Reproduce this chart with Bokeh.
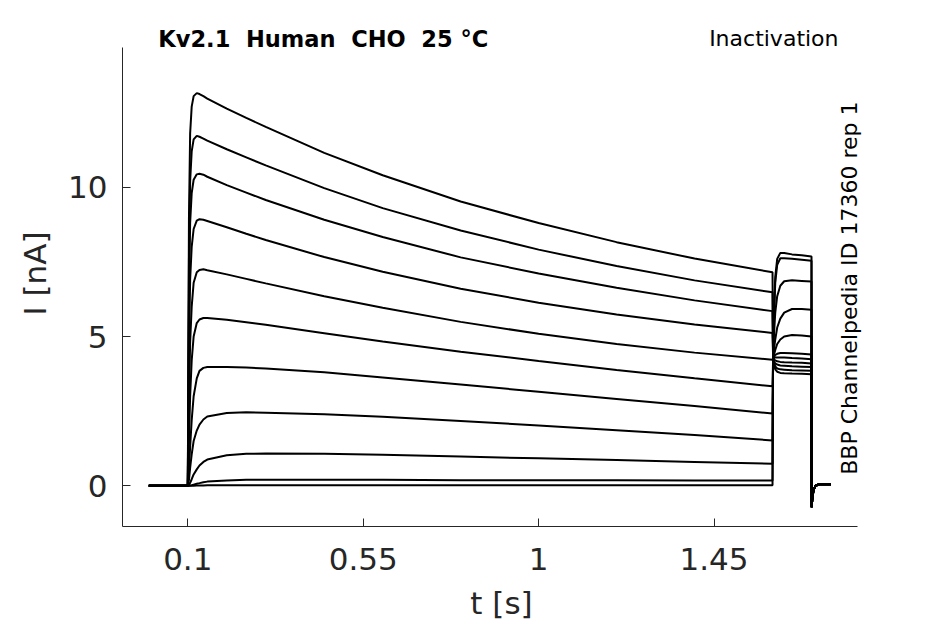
import math
from bokeh.plotting import figure
from bokeh.models import Range1d, FixedTicker, Label
from bokeh.embed import file_html
from bokeh.resources import INLINE

# ---------------- data ----------------
# conditioning (pre-) pulse time grid [s]
t_pre = [0.0, 0.1, 0.103, 0.106, 0.11, 0.115, 0.123, 0.13, 0.14, 0.15,
         0.2, 0.25, 0.3, 0.45, 0.6, 0.8, 1.0, 1.2, 1.4, 1.6]

# current during conditioning pulse [nA], one list per sweep (largest first)
i_pre_1 = [0, 0, 9.0, 11.8, 12.7, 13.05, 13.15, 13.12, 13.05, 12.97, 12.63, 12.32, 12.02, 11.15, 10.40, 9.52, 8.80, 8.16, 7.61, 7.15]
i_pre_2 = [0, 0, 7.6, 10.2, 11.2, 11.6, 11.72, 11.69, 11.63, 11.56, 11.27, 11.00, 10.73, 9.97, 9.30, 8.55, 7.91, 7.36, 6.88, 6.48]
i_pre_3 = [0, 0, 6.2, 8.8, 9.8, 10.25, 10.43, 10.45, 10.42, 10.35, 10.07, 9.82, 9.57, 8.91, 8.33, 7.65, 7.11, 6.63, 6.21, 5.85]
i_pre_4 = [0, 0, 4.5, 6.9, 8.0, 8.6, 8.88, 8.93, 8.91, 8.87, 8.66, 8.44, 8.23, 7.66, 7.17, 6.60, 6.13, 5.74, 5.40, 5.12]
i_pre_5 = [0, 0, 2.8, 4.8, 6.0, 6.8, 7.15, 7.23, 7.25, 7.22, 7.08, 6.93, 6.78, 6.35, 5.96, 5.49, 5.09, 4.75, 4.46, 4.22]
i_pre_6 = [0, 0, 1.5, 3.0, 4.2, 5.0, 5.45, 5.57, 5.62, 5.62, 5.56, 5.48, 5.39, 5.11, 4.83, 4.49, 4.18, 3.88, 3.60, 3.33]
i_pre_7 = [0, 0, 0.6, 1.3, 2.2, 3.0, 3.6, 3.85, 3.95, 3.98, 3.98, 3.96, 3.93, 3.80, 3.63, 3.39, 3.15, 2.91, 2.67, 2.42]
i_pre_8 = [0, 0, 0.2, 0.6, 1.05, 1.5, 1.85, 2.05, 2.22, 2.32, 2.44, 2.46, 2.45, 2.40, 2.31, 2.17, 2.02, 1.86, 1.70, 1.52]
i_pre_9 = [0, 0, 0.03, 0.1, 0.22, 0.38, 0.55, 0.68, 0.8, 0.88, 1.02, 1.07, 1.08, 1.07, 1.04, 0.98, 0.92, 0.86, 0.80, 0.74]
i_pre_10 = [0, 0, 0.0, 0.01, 0.02, 0.04, 0.07, 0.09, 0.12, 0.14, 0.18, 0.20, 0.20, 0.20, 0.20, 0.19, 0.19, 0.19, 0.18, 0.18]
i_pre_11 = [0, 0, 0, 0, 0, 0, 0.01, 0.01, 0.01, 0.02, 0.02, 0.02, 0.02, 0.02, 0.02, 0.02, 0.02, 0.02, 0.02, 0.02]

# test pulse time grid [s]
t_test = [1.6015, 1.603, 1.607, 1.612, 1.62, 1.63, 1.65, 1.675, 1.7]
i_test_1 = [4.28, 4.10, 3.90, 3.82, 3.78, 3.77, 3.76, 3.75, 3.74]
i_test_2 = [4.28, 4.15, 4.00, 3.93, 3.90, 3.89, 3.87, 3.86, 3.85]
i_test_3 = [4.28, 4.20, 4.10, 4.06, 4.03, 4.02, 4.00, 3.99, 3.98]
i_test_4 = [4.28, 4.25, 4.20, 4.17, 4.15, 4.14, 4.13, 4.12, 4.10]
i_test_5 = [4.28, 4.28, 4.30, 4.30, 4.30, 4.30, 4.28, 4.26, 4.24]
i_test_6 = [4.28, 4.30, 4.38, 4.42, 4.45, 4.45, 4.44, 4.42, 4.40]
i_test_7 = [4.28, 4.35, 4.55, 4.75, 4.90, 5.00, 5.05, 5.03, 5.00]
i_test_8 = [4.28, 4.50, 4.90, 5.30, 5.60, 5.80, 5.92, 5.92, 5.90]
i_test_9 = [4.28, 4.90, 5.80, 6.35, 6.70, 6.85, 6.88, 6.86, 6.84]
i_test_10 = [4.28, 5.40, 6.80, 7.40, 7.62, 7.62, 7.60, 7.57, 7.54]
i_test_11 = [4.28, 5.60, 7.00, 7.60, 7.80, 7.80, 7.75, 7.72, 7.68]

# tail after the test pulse (all sweeps overlap)
t_tail = [1.7005, 1.702, 1.705, 1.71, 1.72, 1.75]
i_tail = [-0.72, -0.45, -0.15, 0.0, 0.05, 0.05]

pre_sweeps = [i_pre_1, i_pre_2, i_pre_3, i_pre_4, i_pre_5, i_pre_6,
              i_pre_7, i_pre_8, i_pre_9, i_pre_10, i_pre_11]
test_sweeps = [i_test_1, i_test_2, i_test_3, i_test_4, i_test_5, i_test_6,
               i_test_7, i_test_8, i_test_9, i_test_10, i_test_11]

x_ticks = [0.1, 0.55, 1, 1.45]
x_tick_labels = ["0.1", "0.55", "1", "1.45"]
y_ticks = [0, 5, 10]
y_tick_labels = ["0", "5", "10"]

title_text = "Kv2.1 \u00a0Human \u00a0CHO \u00a025 °C"
protocol_text = "Inactivation"
source_text = "BBP Channelpedia ID 17360 rep 1"

# axis extents (data units); the frame is a little larger to hold the texts
x_axis_bounds = (-0.0675, 1.818)
y_axis_bounds = (-1.363, 14.68)

# ---------------- figure ----------------
AX = "#262626"
p = figure(frame_width=758, frame_height=506,
           x_range=Range1d(-0.0675, 1.877), y_range=Range1d(-1.363, 15.583),
           output_backend="svg", toolbar_location=None,
           min_border_left=122, min_border_right=10,
           min_border_top=20, min_border_bottom=0)
p.outline_line_color = None
p.xgrid.visible = False
p.ygrid.visible = False
p.background_fill_color = "white"
p.border_fill_color = "white"

for pre, test in zip(pre_sweeps, test_sweeps):
    xs = t_pre + t_test + t_tail
    ys = pre + test + i_tail
    p.line(xs, ys, line_color="black", line_width=2)

for ax in (p.xaxis, p.yaxis):
    ax.axis_line_color = AX
    ax.axis_line_width = 1
    ax.major_tick_line_color = AX
    ax.major_tick_in = 8
    ax.major_tick_out = 0
    ax.minor_tick_line_color = None
    ax.major_label_text_font = "DejaVu Sans"
    ax.major_label_text_font_size = "31px"
    ax.major_label_text_color = AX
    ax.axis_label_text_font = "DejaVu Sans"
    ax.axis_label_text_font_size = "31px"
    ax.axis_label_text_font_style = "normal"
    ax.axis_label_text_color = AX

p.xaxis.bounds = x_axis_bounds
p.yaxis.bounds = y_axis_bounds
p.xaxis.ticker = FixedTicker(ticks=x_ticks)
p.xaxis.major_label_overrides = dict(zip(x_ticks, x_tick_labels))
p.yaxis.ticker = FixedTicker(ticks=y_ticks)
p.yaxis.major_label_overrides = dict(zip(y_ticks, y_tick_labels))
p.xaxis.axis_label = "t [s]"
p.yaxis.axis_label = "I [nA]"
p.xaxis.major_label_standoff = 21
p.yaxis.major_label_standoff = 15
p.xaxis.axis_label_standoff = 12
p.yaxis.axis_label_standoff = 12

p.add_layout(Label(x=0.0245, y=14.98, text=title_text, text_font="DejaVu Sans",
                   text_font_style="bold", text_font_size="22.5px", text_color="black",
                   text_align="left", text_baseline="alphabetic"))
p.add_layout(Label(x=1.7693, y=14.98, text=protocol_text, text_font="DejaVu Sans",
                   text_font_size="22px", text_color="black",
                   text_align="right", text_baseline="alphabetic"))
p.add_layout(Label(x=1.7975, y=6.62, text=source_text, text_font="DejaVu Sans",
                   text_font_size="22px", text_color="black", angle=math.pi / 2,
                   text_align="center", text_baseline="alphabetic"))

open("out.html", "w").write(file_html(p, INLINE))
